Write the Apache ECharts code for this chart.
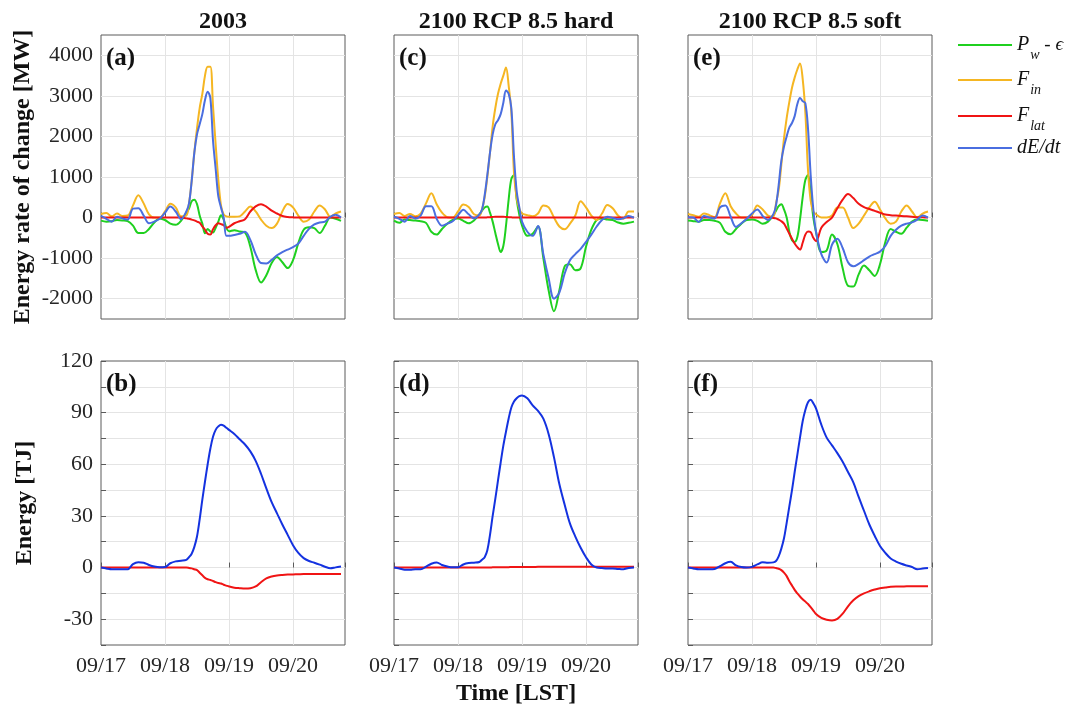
<!DOCTYPE html>
<html><head><meta charset="utf-8">
<script src="https://cdn.jsdelivr.net/npm/echarts@6/dist/echarts.min.js"></script>
<style>html,body{margin:0;padding:0;background:#fff}#c{width:1075px;height:710px}</style>
</head><body><div id="c"></div>
<script>
// time in hours since 09/17 00:00 LST
const hours = [0,2,4,6,8,10,12,14,16,18,20,22,24,26,28,30,32,
  33,34,35,36,37,38,39,40,41,42,43,44,45,46,47,48,
  50,52,54,56,58,60,62,64,66,68,70,72,74,76,78,80,82,84,86,88,90];
const dayLabels = ['09/17','09/18','09/19','09/20'];
const panelTitles = ['2003','2100 RCP 8.5 hard','2100 RCP 8.5 soft'];
const panelLetters = ['(a)','(c)','(e)','(b)','(d)','(f)'];
const seriesNames = ['P_w - ϵ','F_in','F_lat','dE/dt'];

// ---- 2003 : energy rate of change [MW]
const pw2003 = [-75,-100,-90,-60,-70,-90,-200,-380,-380,-280,-120,-20,-60,-150,-180,-80,120,
  220,400,440,330,50,-150,-385,-280,-340,-370,-250,-100,60,-50,-250,-340,
  -310,-345,-370,-720,-1290,-1600,-1420,-1120,-970,-1100,-1245,-1050,-630,-300,-240,-260,-380,-200,0,-30,-80];
const fin2003 = [90,110,30,100,40,50,300,550,350,80,0,0,150,340,250,30,50,
  350,900,1600,2200,2700,3050,3500,3720,3720,2750,1800,930,300,80,30,20,
  20,30,150,270,150,-50,-200,-260,-150,150,335,250,50,-100,-50,150,300,200,20,100,150];
const flat2003 = [0,0,0,0,0,0,0,0,0,0,0,0,0,0,0,0,-20,
  -30,-50,-70,-100,-130,-220,-300,-400,-420,-290,-190,-140,-160,-190,-250,-230,
  -140,-90,-40,150,275,330,270,170,100,40,15,5,0,0,0,0,0,0,0,0,0];
const dedt2003 = [40,-30,-100,20,-20,-50,220,230,50,-140,-100,-30,120,270,150,-40,150,
  350,900,1600,2050,2300,2550,2900,3100,2950,1900,1200,520,250,0,-450,-450,
  -430,-400,-350,-550,-900,-1120,-1130,-1040,-930,-850,-790,-730,-640,-450,-280,-170,-120,-100,20,70,0];

// ---- 2100 RCP 8.5 hard
const pwHard = [-75,-130,-50,-60,-75,-90,-130,-350,-420,-280,-150,-60,-25,-80,-140,-70,80,
  170,250,270,120,-100,-380,-650,-850,-700,-200,450,950,1050,450,70,-190,
  -450,-400,-220,-1000,-1800,-2310,-1800,-1200,-1150,-1300,-1250,-720,-300,-60,-20,-50,-60,-120,-150,-130,-100];
const finHard = [90,110,40,90,30,100,350,600,330,120,10,0,150,320,260,80,50,
  200,500,1000,1600,2250,2700,3050,3300,3500,3700,3250,2600,1100,480,220,100,
  60,30,100,300,250,0,-220,-287,-150,50,400,250,50,-60,100,310,230,50,-30,150,150];
const flatHard = [0,0,0,0,0,0,0,0,0,0,0,0,0,0,0,0,0,
  0,0,5,10,15,20,20,20,20,15,10,5,0,0,0,0,
  0,0,0,0,0,0,0,0,0,0,0,0,0,0,0,0,0,0,0,0,0];
const dedtHard = [20,-30,-100,40,-20,50,280,280,-30,-200,-150,-90,60,190,80,-20,80,
  200,550,1050,1600,2050,2300,2400,2550,2830,3130,3050,2700,1500,650,250,-100,
  -350,-450,-210,-900,-1500,-2000,-1850,-1380,-1050,-900,-770,-600,-420,-220,-60,20,-10,-40,-20,40,0];

// ---- 2100 RCP 8.5 soft
const pwSoft = [-75,-90,-100,-60,-60,-80,-130,-350,-410,-280,-150,-60,-50,-80,-150,-100,60,
  170,280,330,200,0,-350,-560,-600,-480,-50,500,925,1050,600,0,-350,
  -850,-810,-420,-650,-1250,-1680,-1700,-1400,-1180,-1300,-1440,-1150,-600,-280,-350,-400,-250,-100,-50,-60,-80];
const finSoft = [90,60,20,100,60,10,350,600,280,100,0,0,60,300,200,50,25,
  350,680,1300,1950,2450,2850,3200,3450,3650,3800,3420,2600,1170,420,150,80,
  0,0,50,250,250,0,-260,-150,50,250,390,200,-20,-150,-100,150,300,150,0,100,150];
const flatSoft = [0,0,0,0,0,0,0,0,0,0,0,0,0,0,0,0,-10,
  -20,-50,-90,-150,-270,-400,-520,-640,-730,-790,-620,-420,-345,-360,-500,-580,
  -250,-110,0,230,440,580,480,340,260,210,165,120,75,60,50,40,30,20,10,5,0];
const dedtSoft = [10,0,-110,40,0,-20,250,300,20,-230,-140,-30,100,200,40,-60,80,
  300,800,1400,1750,2000,2220,2330,2500,2800,2950,2870,2820,2200,1050,200,-350,
  -900,-1110,-670,-520,-750,-1100,-1200,-1140,-1050,-960,-900,-840,-700,-450,-300,-200,-150,-120,-50,50,0];

// ---- Energy [TJ]
const e2003 = [0,-0.5,-1,-1,-1,-1,2,3.1,2.8,1.5,0.6,0.2,0.3,2.5,3.6,4,4.5,
  6,8,12,18,28,39.5,50,60,69,76,80,82,83,82.5,81.2,80,
  77.6,74.5,71.5,67.5,62,54.5,46,38,31.5,25,19,13,8.5,5.5,3.8,2.8,1.7,0.5,-0.4,0.1,0.6];
const elat2003 = [0,0,0,0,0,0,0,0,0,0,0,0,0,0,0,0,0,
  -0.2,-0.5,-1,-1.5,-3,-4.5,-6,-6.8,-7.2,-7.8,-8.5,-9,-9.3,-10,-10.5,-11,
  -11.7,-12,-12.2,-12,-11,-8.5,-6.3,-5.2,-4.6,-4.3,-4.1,-4,-3.9,-3.8,-3.8,-3.8,-3.7,-3.7,-3.7,-3.7,-3.7];
const eHard = [0,-0.5,-1.3,-1.3,-1,-1,0.5,2.2,3,1.5,0.6,0.1,0.2,1.8,2.6,2.8,3.2,
  4.5,6,10,19,30,40,50.6,61,70.8,79,86.6,93,96.5,98.4,99.6,100,
  98.3,94.2,91,86.5,77.5,64,48.5,36.5,25.5,18,11.5,6,1.8,0,-0.3,-0.5,-0.5,-0.8,-1,-0.2,0];
const elatHard = [0,0,0,0,0,0,0,0,0,0,0,0,0,0,0,0,0,
  0,0,0,0,0.1,0.1,0.1,0.2,0.2,0.2,0.2,0.3,0.3,0.3,0.3,0.3,
  0.3,0.3,0.4,0.4,0.4,0.4,0.4,0.5,0.5,0.5,0.5,0.5,0.5,0.5,0.5,0.5,0.5,0.5,0.5,0.5,0.5];
const eSoft = [0,-0.5,-1,-1,-1,-0.8,0.8,2.5,3.3,1.3,0.3,0,0.4,1.8,3.1,2.8,3,
  3.8,6.5,11,17,26,35.5,45,55.5,65.5,75.5,85,91.5,96,97.5,95.5,92.5,
  83,75.5,71,66.5,61.5,55.5,49.5,41,33,25,18.5,12.5,8.5,5.3,3.5,2.2,1.2,0.3,-1,-0.6,-0.2];
const elatSoft = [0,0,0,0,0,0,0,0,0,0,0,0,0,0,0,0,0,
  -0.3,-0.7,-1.5,-3,-5,-8,-10.5,-13,-15,-16.8,-18.4,-19.8,-21.2,-23,-25,-27,
  -29.3,-30.3,-30.7,-29.8,-26.8,-22.5,-19,-16.6,-15,-13.8,-12.8,-12,-11.6,-11.2,-11,-11,-10.9,-10.9,-10.9,-10.9,-10.9];

// ---------------- layout / style ----------------
const FONT = "'Liberation Serif','Times New Roman',serif";
const TXT = '#262626';
const GRIDC = '#e4e4e4';
const BOX = '#5a5a5a';
const lineColors = ['#1fd01f','#f5b622','#f01414','#4a6ee0'];
const energyColors = ['#1432e0','#f01414'];
const lefts = [101, 394, 688];
const W = 244, H = 284;
const tops = [35, 361];

const topSets = [[pw2003,fin2003,flat2003,dedt2003],[pwHard,finHard,flatHard,dedtHard],[pwSoft,finSoft,flatSoft,dedtSoft]];
const botSets = [[e2003,elat2003],[eHard,elatHard],[eSoft,elatSoft]];
const pairs = arr => hours.map((h,i) => [h, arr[i]]);

const grid = [], xAxis = [], yAxis = [], series = [], graphic = [];
for (let r = 0; r < 2; r++) {
  for (let c = 0; c < 3; c++) {
    const gi = r*3 + c;
    grid.push({left: lefts[c], top: tops[r], width: W, height: H, show: true,
      borderColor: BOX, borderWidth: 1, backgroundColor: '#fff'});
    xAxis.push({gridIndex: gi, type: 'value', min: 0, max: 91.5, interval: 24,
      axisLine: {show: false},
      axisTick: {show: true, inside: true, length: 5, lineStyle: {color: BOX}},
      axisLabel: {show: r === 1, fontFamily: FONT, fontSize: 22, color: TXT, margin: 10,
        formatter: v => (v % 24 === 0 ? dayLabels[v/24] : '')},
      splitLine: {show: true, showMinLine: false, showMaxLine: false, lineStyle: {color: GRIDC, width: 1}},
      name: (r === 1 && c === 1) ? 'Time [LST]' : '',
      nameLocation: 'middle', nameGap: 37,
      nameTextStyle: {fontFamily: FONT, fontWeight: 'bold', fontSize: 24, color: '#111'}
    });
    if (r === 0) {
      yAxis.push({gridIndex: gi, type: 'value', min: -2500, max: 4500, interval: 500,
        axisLine: {show: false}, axisTick: {show: false},
        axisLabel: {show: c === 0, fontFamily: FONT, fontSize: 22, color: TXT, margin: 8,
          formatter: v => (v % 1000 === 0 ? String(v) : '')},
        splitLine: {show: true, showMinLine: false, showMaxLine: false,
          lineStyle: {color: [GRIDC, 'rgba(0,0,0,0)'], width: 1}},
        name: c === 0 ? 'Energy rate of change [MW]' : '',
        nameLocation: 'middle', nameRotate: 90, nameGap: 66,
        nameTextStyle: {fontFamily: FONT, fontWeight: 'bold', fontSize: 24, color: '#111'}
      });
      topSets[c].forEach((arr, k) => series.push({
        type: 'line', name: seriesNames[k], xAxisIndex: gi, yAxisIndex: gi,
        data: pairs(arr), symbol: 'none', showSymbol: false, smooth: 0.35,
        lineStyle: {color: lineColors[k], width: 2}, itemStyle: {color: lineColors[k]},
        emphasis: {disabled: true}, z: 2 + k
      }));
    } else {
      yAxis.push({gridIndex: gi, type: 'value', min: -45, max: 120, interval: 15,
        axisLine: {show: false},
        axisTick: {show: true, inside: true, length: 5, lineStyle: {color: BOX}},
        axisLabel: {show: c === 0, fontFamily: FONT, fontSize: 22, color: TXT, margin: 8,
          formatter: v => (v % 30 === 0 ? String(v) : '')},
        splitLine: {show: true, showMinLine: false, showMaxLine: false, lineStyle: {color: GRIDC, width: 1}},
        name: c === 0 ? 'Energy [TJ]' : '',
        nameLocation: 'middle', nameRotate: 90, nameGap: 64,
        nameTextStyle: {fontFamily: FONT, fontWeight: 'bold', fontSize: 24, color: '#111'}
      });
      botSets[c].forEach((arr, k) => series.push({
        type: 'line', name: k === 0 ? 'E' : 'E_lat', xAxisIndex: gi, yAxisIndex: gi,
        data: pairs(arr), symbol: 'none', showSymbol: false, smooth: 0.35,
        lineStyle: {color: energyColors[k], width: 2}, itemStyle: {color: energyColors[k]},
        emphasis: {disabled: true}, z: 3 - k
      }));
    }
    graphic.push({type: 'text', x: lefts[c] + 5, y: tops[r] + 11, z: 100,
      style: {text: panelLetters[gi], font: "bold 25px 'Liberation Serif', serif", fill: '#111', verticalAlign: 'top'}});
  }
}

const title = panelTitles.map((t, c) => ({
  text: t, left: lefts[c] + W/2, top: 10, textAlign: 'center', padding: 0,
  textStyle: {fontFamily: FONT, fontWeight: 'bold', fontSize: 24, color: '#111'}
}));

const legendText = {
  'P_w - ϵ': '{i|P}{s|w}{n| - ϵ}',
  'F_in': '{i|F}{s|in}',
  'F_lat': '{i|F}{s|lat}',
  'dE/dt': '{i|dE/dt}'
};
const legendTops = [35, 70, 106, 138];
const legend = seriesNames.map((nm, k) => ({
  data: [nm], left: 957, top: legendTops[k], orient: 'vertical', padding: 0,
  itemWidth: 54, itemHeight: 14, itemGap: 0, selectedMode: false,
  itemStyle: {opacity: 0},
  formatter: n => legendText[n],
  textStyle: {color: '#111', fontFamily: FONT, fontSize: 19, fontStyle: 'italic',
    rich: {
      i: {fontFamily: FONT, fontSize: 20, fontStyle: 'italic', color: '#111', verticalAlign: 'middle'},
      n: {fontFamily: FONT, fontSize: 19, fontStyle: 'italic', color: '#111', verticalAlign: 'middle'},
      s: {fontFamily: FONT, fontSize: 14, fontStyle: 'italic', color: '#111', verticalAlign: 'middle', padding: [20, 0, 0, 1]}
    }}
}));

const chart = echarts.init(document.getElementById('c'), null, {renderer: 'canvas'});
chart.setOption({
  animation: false, backgroundColor: '#fff',
  title, legend, grid, xAxis, yAxis, series, graphic
});
</script></body></html>
